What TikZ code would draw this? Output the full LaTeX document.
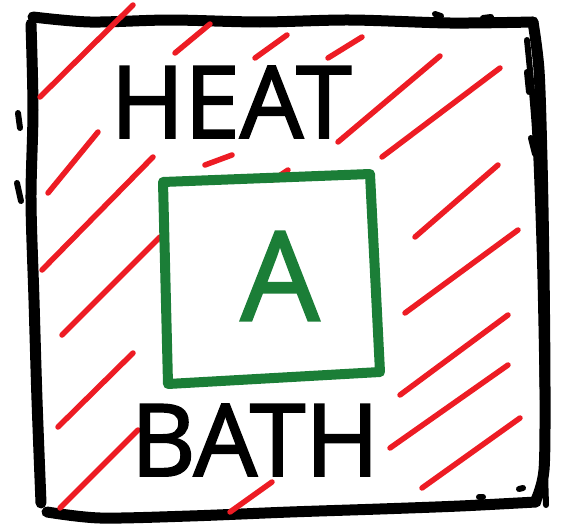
\documentclass[tikz,border=0pt]{standalone}
\usepackage{fontspec}
\setmainfont{Open Sans}
\newfontfamily\sketchfont{Open Sans}[FakeBold=2]
\definecolor{hatchred}{RGB}{237,28,36}
\definecolor{boxgreen}{RGB}{27,126,55}
\tikzset{
	frame/.style={line width=11pt, line cap=round, line join=round},
	speck/.style={line width=6pt, line cap=round},
	hatch/.style={hatchred, line width=5.5pt, line cap=round},
	word/.style={inner sep=0pt, font=\sketchfont\fontsize{100}{100}\selectfont},
}

\begin{document}
\begin{tikzpicture}[x=1pt, y=-1pt]

	\useasboundingbox (0,0) rectangle (566,530);

	\draw[frame] plot[smooth] coordinates {(33,17) (90,22) (170,20) (260,22) (350,20) (450,23) (533,22)};
	\draw[frame] plot[smooth] coordinates {(533,22) (539,70) (542,160) (544,270) (545,390) (544,470) (536,500)};
	\draw[frame, line width=6pt] plot[smooth] coordinates {(527,40) (535,130) (540,260) (543,400) (546,505)};
	\draw[frame] plot[smooth] coordinates {(536,502) (460,506) (380,509) (290,512) (190,516) (100,518) (47,512)};
	\draw[frame] plot[smooth] coordinates {(31,24) (33,110) (31,200) (34,300) (37,400) (41,503)};

	\draw[speck] (435,14) -- (441,16) (483,18) -- (491,17)
	(18,113) -- (20,128) (17,183) -- (21,201)
	(527,72) -- (529,92) (531,138) -- (535,154)
	(479,497) -- (483,497) (519,489) -- (523,488);

	\draw[hatch]
	(40,97) -- (133,5) (175,53) -- (210,24) (255,58) -- (287,35)
	(328,58) -- (362,37) (338,142) -- (440,56) (382,157) -- (500,68)
	(48,193) -- (98,132) (42,270) -- (153,157) (205,165) -- (232,155)
	(273,180) -- (288,170) (62,335) -- (160,237) (415,237) -- (498,165)
	(405,313) -- (518,230) (400,395) -- (508,315) (390,448) -- (508,365)
	(422,488) -- (520,418) (58,427) -- (133,353) (60,508) -- (138,430)
	(230,512) -- (272,482);

	\draw[boxgreen, frame, line width=10pt] (163,182) -- (370,174) -- (380,372) -- (168,384) -- cycle;

	\node[word] (heat) at (231,102) {HEAT};
	\node[word] (bath) at (255,440) {BATH};
	\node[word, boxgreen, font=\sketchfont\fontsize{124}{124}\selectfont] (a) at (280,276) {A};

\end{tikzpicture}
\end{document}
